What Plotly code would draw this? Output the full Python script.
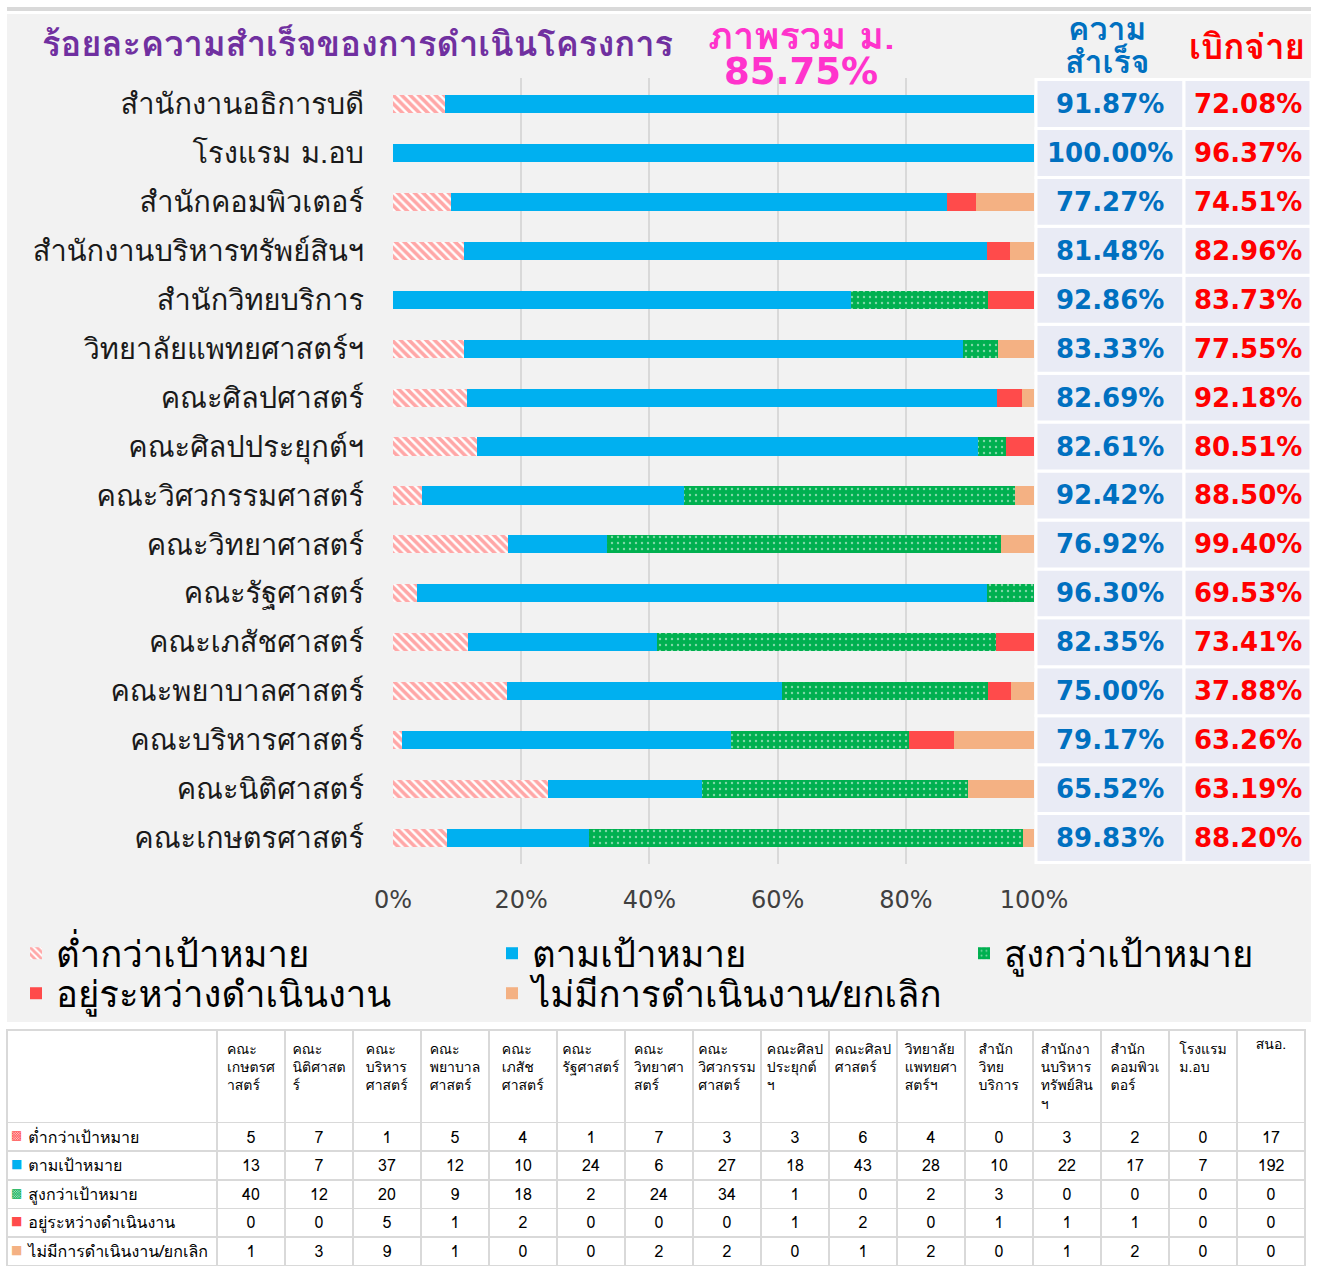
import plotly.graph_objects as go

W, H = 1321, 1268

# ---------------- data ----------------
categories = ["คณะเกษตรศาสตร์", "คณะนิติศาสตร์", "คณะบริหารศาสตร์", "คณะพยาบาลศาสตร์",
              "คณะเภสัชศาสตร์", "คณะรัฐศาสตร์", "คณะวิทยาศาสตร์", "คณะวิศวกรรมศาสตร์",
              "คณะศิลปประยุกต์ฯ", "คณะศิลปศาสตร์", "วิทยาลัยแพทยศาสตร์ฯ", "สำนักวิทยบริการ",
              "สำนักงานบริหารทรัพย์สินฯ", "สำนักคอมพิวเตอร์", "โรงแรม ม.อบ", "สำนักงานอธิการบดี"]

table_headers = ["คณะ<br>เกษตรศ<br>าสตร์", "คณะ<br>นิติศาสต<br>ร์", "คณะ<br>บริหาร<br>ศาสตร์",
                 "คณะ<br>พยาบาล<br>ศาสตร์", "คณะ<br>เภสัช<br>ศาสตร์", "คณะ<br>รัฐศาสตร์",
                 "คณะ<br>วิทยาศา<br>สตร์", "คณะ<br>วิศวกรรม<br>ศาสตร์", "คณะศิลป<br>ประยุกต์<br>ฯ",
                 "คณะศิลป<br>ศาสตร์", "วิทยาลัย<br>แพทยศา<br>สตร์ฯ", "สำนัก<br>วิทย<br>บริการ",
                 "สำนักงา<br>นบริหาร<br>ทรัพย์สิน<br>ฯ", "สำนัก<br>คอมพิวเ<br>ตอร์", "โรงแรม<br>ม.อบ", "สนอ."]

series_names = ["ต่ำกว่าเป้าหมาย", "ตามเป้าหมาย", "สูงกว่าเป้าหมาย",
                "อยู่ระหว่างดำเนินงาน", "ไม่มีการดำเนินงาน/ยกเลิก"]

below_target = [5, 7, 1, 5, 4, 1, 7, 3, 3, 6, 4, 0, 3, 2, 0, 17]
on_target = [13, 7, 37, 12, 10, 24, 6, 27, 18, 43, 28, 10, 22, 17, 7, 192]
above_target = [40, 12, 20, 9, 18, 2, 24, 34, 1, 0, 2, 3, 0, 0, 0, 0]
in_progress = [0, 0, 5, 1, 2, 0, 0, 0, 1, 2, 0, 1, 1, 1, 0, 0]
no_action = [1, 3, 9, 1, 0, 0, 2, 2, 0, 1, 2, 0, 1, 2, 0, 0]

success_pct = [89.83, 65.52, 79.17, 75.00, 82.35, 96.30, 76.92, 92.42,
               82.61, 82.69, 83.33, 92.86, 81.48, 77.27, 100.00, 91.87]
disburse_pct = [88.20, 63.19, 63.26, 37.88, 73.41, 69.53, 99.40, 88.50,
                80.51, 92.18, 77.55, 83.73, 82.96, 74.51, 96.37, 72.08]

overall_label = "ภาพรวม ม."
overall_value = "85.75%"
x_ticks = [0, 20, 40, 60, 80, 100]

# ---------------- styling helpers ----------------
THAI = "Waree, Garuda, Loma, Tahoma, Noto Sans Thai Looped, Noto Sans Thai, DejaVu Sans, sans-serif"
WIDE = "Verdana, DejaVu Sans, sans-serif"

def px_x(px):
    return px / W

def px_y(py):
    return (H - py) / H

C_BELOW = "#ff5050"
C_ON = "#00b0f0"
C_ABOVE = "#00b050"
C_PROG = "#ff4b4b"
C_NONE = "#f4b183"

series = [below_target, on_target, above_target, in_progress, no_action]
markers = [
    dict(color="white", pattern=dict(shape="\\", fgcolor=C_BELOW, bgcolor="white", size=6, solidity=0.6)),
    dict(color=C_ON),
    dict(color=C_ABOVE, pattern=dict(shape=".", fgcolor="white", bgcolor=C_ABOVE, size=6, solidity=0.12)),
    dict(color=C_PROG),
    dict(color=C_NONE),
]
legend_ids = ["legend", "legend2", "legend3", "legend4", "legend5"]
# legend slot (left px of legend box, top px of legend box)
legend_pos = [(16, 923), (492, 923), (964, 923), (16, 963), (492, 963)]

fig = go.Figure()
for name, vals, mk, lg in zip(series_names, series, markers, legend_ids):
    mk = dict(mk)
    mk["line"] = dict(width=0)
    fig.add_trace(go.Bar(y=categories, x=vals, name=name, orientation="h",
                         marker=mk, legend=lg))

# bottom table
T_TOP, T_BOT, HEAD_H, ROW_H = 1030, 1265, 91, 28.6
icon_colors = [C_BELOW, C_ON, C_ABOVE, C_PROG, C_NONE]
icons = ["▩", "■", "▩", "■", "■"]
row_labels = ["\u00a0\u00a0\u00a0" + n for n in series_names]
col_values = [row_labels] + [[s[i] for s in series] for i in range(len(categories))]

fig.add_trace(go.Table(
    domain=dict(x=[px_x(7), px_x(1305)], y=[px_y(T_BOT + 2), px_y(T_TOP)]),
    columnwidth=[210] + [68] * len(categories),
    header=dict(values=[""] + table_headers, height=HEAD_H,
                align="center", fill_color="white",
                line_color="#d9d9d9", line_width=1.5,
                font=dict(family=THAI, size=14, color="black")),
    cells=dict(values=col_values, height=ROW_H,
               align=["left"] + ["center"] * len(categories),
               fill_color="white", line_color="#d9d9d9", line_width=1.5,
               font=dict(family=THAI, size=16, color="black")),
))

shapes = [
    dict(type="rect", xref="paper", yref="paper", x0=px_x(7), x1=px_x(1311),
         y0=px_y(1022), y1=px_y(14), fillcolor="#f2f2f2", line_width=0, layer="below"),
    dict(type="rect", xref="paper", yref="paper", x0=px_x(7), x1=px_x(1311),
         y0=px_y(11), y1=px_y(7), fillcolor="#d9d9d9", line_width=0, layer="below"),
]
annotations = []
for i in range(len(categories)):
    shapes.append(dict(type="rect", xref="paper", yref="y", x0=px_x(1036), x1=px_x(1184),
                       y0=i - 0.5, y1=i + 0.5, fillcolor="#e9ebf5", line=dict(color="white", width=3)))
    shapes.append(dict(type="rect", xref="paper", yref="y", x0=px_x(1184), x1=px_x(1311),
                       y0=i - 0.5, y1=i + 0.5, fillcolor="#e9ebf5", line=dict(color="white", width=3)))
    annotations.append(dict(xref="paper", yref="y", x=px_x(1110), y=i, showarrow=False,
                            xanchor="center", yanchor="middle",
                            text=f"<b>{success_pct[i]:.2f}%</b>",
                            font=dict(family=WIDE, size=26, color="#0070c0")))
    annotations.append(dict(xref="paper", yref="y", x=px_x(1248), y=i, showarrow=False,
                            xanchor="center", yanchor="middle",
                            text=f"<b>{disburse_pct[i]:.2f}%</b>",
                            font=dict(family=WIDE, size=26, color="#ff0000")))

# colored icons in the first column of the bottom table
for k, (c, ic) in enumerate(zip(icon_colors, icons)):
    yc = T_TOP + HEAD_H + ROW_H * (k + 0.5)
    annotations.append(dict(xref="paper", yref="paper", x=px_x(16), y=px_y(yc), showarrow=False,
                            xanchor="center", yanchor="middle", text=ic,
                            font=dict(family="DejaVu Sans", size=12, color=c)))

annotations += [
    dict(xref="paper", yref="paper", x=px_x(40), y=px_y(43), xanchor="left", yanchor="middle",
         showarrow=False, text="<b>ร้อยละความสำเร็จของการดำเนินโครงการ</b>",
         font=dict(family=THAI, size=34.5, color="#7030a0")),
    dict(xref="paper", yref="paper", x=px_x(801), y=px_y(35), xanchor="center", yanchor="middle",
         showarrow=False, text=f"<b>{overall_label}</b>",
         font=dict(family=THAI, size=38, color="#ff33cc")),
    dict(xref="paper", yref="paper", x=px_x(801), y=px_y(72), xanchor="center", yanchor="middle",
         showarrow=False, text=f"<b>{overall_value}</b>",
         font=dict(family=WIDE, size=37, color="#ff33cc")),
    dict(xref="paper", yref="paper", x=px_x(1107), y=px_y(29), xanchor="center", yanchor="middle",
         showarrow=False, text="<b>ความ</b>",
         font=dict(family=THAI, size=32, color="#0070c0")),
    dict(xref="paper", yref="paper", x=px_x(1107), y=px_y(61), xanchor="center", yanchor="middle",
         showarrow=False, text="<b>สำเร็จ</b>",
         font=dict(family=THAI, size=32, color="#0070c0")),
    dict(xref="paper", yref="paper", x=px_x(1247), y=px_y(47), xanchor="center", yanchor="middle",
         showarrow=False, text="<b>เบิกจ่าย</b>",
         font=dict(family=THAI, size=35, color="#ff0000")),
]

legend_layout = {}
for lg, (lx, ly) in zip(legend_ids, legend_pos):
    legend_layout[lg] = dict(x=px_x(lx), y=px_y(ly), orientation="v", yanchor="top", xanchor="left",
                             bgcolor="rgba(0,0,0,0)",
                             font=dict(family=THAI, size=36.5, color="black"))

fig.update_layout(
    width=W, height=H,
    margin=dict(l=0, r=0, t=0, b=0, autoexpand=False),
    paper_bgcolor="white", plot_bgcolor="#f2f2f2",
    barmode="stack", barnorm="percent", bargap=0.63,
    xaxis=dict(domain=[px_x(393), px_x(1034)], range=[0, 100], tickvals=x_ticks,
               ticktext=[f"{v}%" for v in x_ticks], showgrid=True, gridcolor="#d9d9d9",
               gridwidth=1.5, zeroline=False, showline=False, ticklabelstandoff=19,
               tickfont=dict(family=WIDE, size=24, color="#404040"), fixedrange=True,
               automargin=False),
    yaxis=dict(domain=[px_y(864), px_y(78)], showgrid=False, zeroline=False, showline=False,
               ticklabelstandoff=28, tickfont=dict(family=THAI, size=29, color="#1a1a1a"),
               fixedrange=True, automargin=False),
    shapes=shapes, annotations=annotations, showlegend=True,
    **legend_layout,
)

fig.write_html("out.html", config={"displayModeBar": False},
               post_script="document.body.style.margin='0px';")
